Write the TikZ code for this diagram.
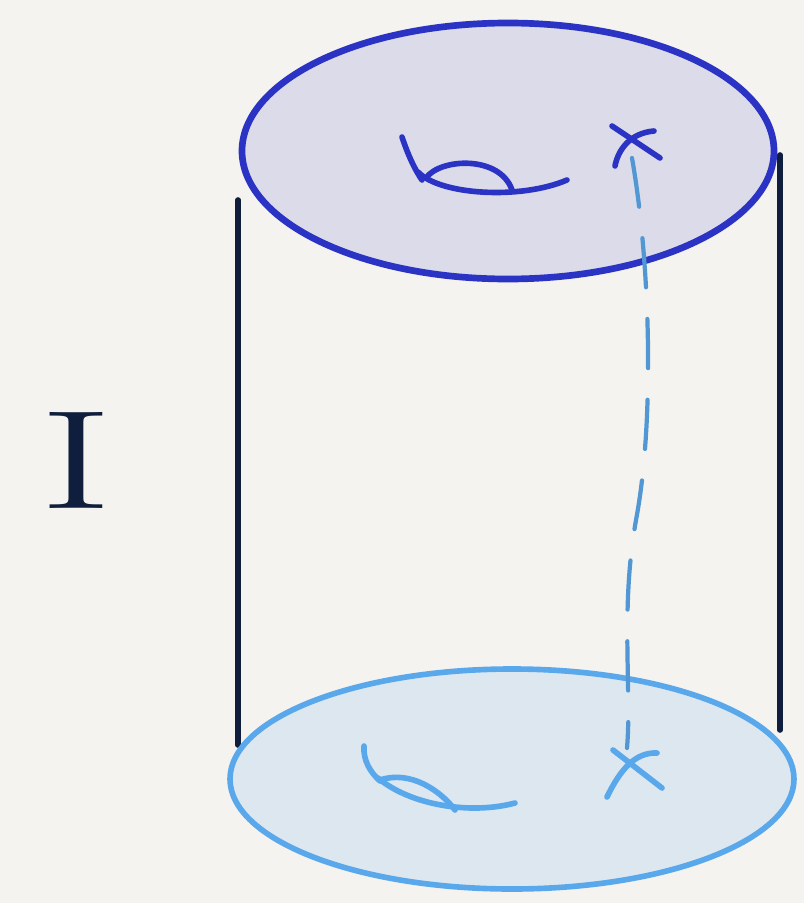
\documentclass[tikz,border=0pt]{standalone}
\usetikzlibrary{calc}
\definecolor{paper}{HTML}{F5F3EF}
\definecolor{topfill}{HTML}{DCDBEA}
\definecolor{topline}{HTML}{2B33C4}
\definecolor{botfill}{HTML}{DDE7EF}
\definecolor{botline}{HTML}{5AA8EC}
\definecolor{ink}{HTML}{0F1E3C}
\tikzset{
    pen/.style={line width=1.6pt, line cap=round, line join=round},
}
\begin{document}
\begin{tikzpicture}[x=0.01cm, y=-0.01cm]
    \fill[paper] (0,0) rectangle (804,903);
    \useasboundingbox (0,0) rectangle (804,903);
    % sides of the cylinder
    \draw[pen, ink] (238,200) -- (238,745);
    \draw[pen, ink] (780,155) -- (780,730);
    % bottom disc
    \filldraw[pen, fill=botfill, draw=botline] (512,779) ellipse [x radius=282, y radius=110];
    % top disc
    \filldraw[pen, line width=1.9pt, fill=topfill, draw=topline] (508,151) ellipse [x radius=266, y radius=128];
    % path of the marked point
    \draw[pen, botline!90!black, dashed, dash pattern=on 14pt off 9pt, line width=1.2pt]
        (632,158) .. controls (650,260) and (655,420) .. (636,520)
        .. controls (620,610) and (632,690) .. (627,748);
    % handle on the top disc
    \draw[pen, topline] (402,137) .. controls (408,155) and (415,170) .. (422,180);
    \draw[pen, topline] (418,172) .. controls (440,195) and (520,200) .. (567,180);
    \draw[pen, topline] (426,178) .. controls (440,158) and (500,155) .. (512,190);
    % cross on the top disc
    \draw[pen, topline] (612,126) -- (660,158);
    \draw[pen, topline] (654,131) .. controls (630,133) and (618,150) .. (615,166);
    % handle on the bottom disc
    \draw[pen, botline] (364,746) .. controls (363,760) and (370,772) .. (380,781);
    \draw[pen, botline] (378,778) .. controls (410,805) and (470,815) .. (515,803);
    \draw[pen, botline] (380,780) .. controls (410,770) and (440,790) .. (455,810);
    % cross on the bottom disc
    \draw[pen, botline] (613,750) -- (662,788);
    \draw[pen, botline] (657,753) .. controls (635,752) and (620,770) .. (607,797);
    % interval label
    \node[ink, font=\fontsize{40}{44}\selectfont] (interval) at (76,460) {\scalebox{1.6}[1]{I}};
\end{tikzpicture}
\end{document}
